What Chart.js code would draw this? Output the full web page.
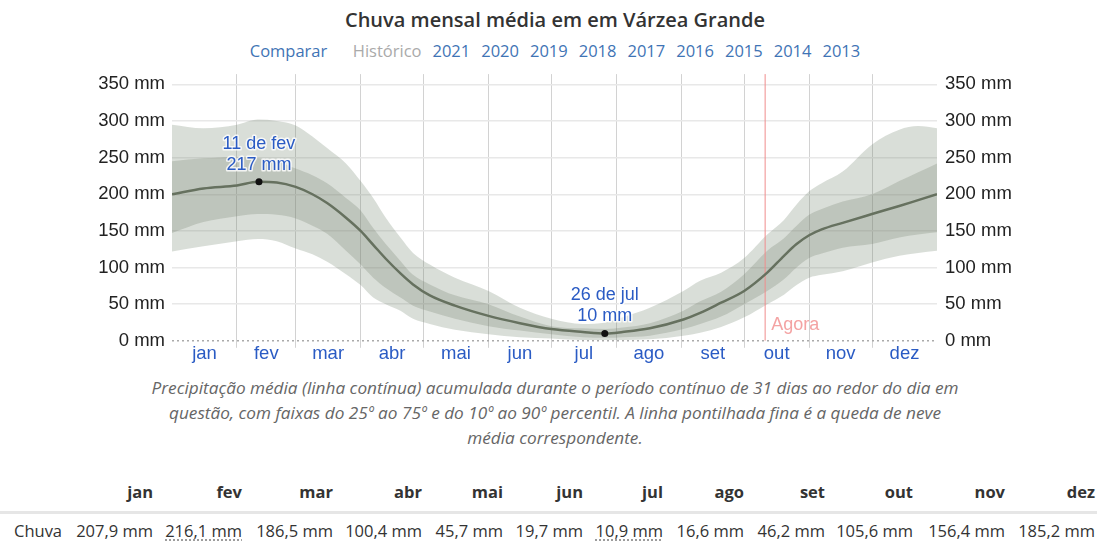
<!DOCTYPE html>
<html lang="pt">
<head>
<meta charset="utf-8">
<title>Chuva mensal média em Várzea Grande</title>
<script src="https://cdn.jsdelivr.net/npm/chart.js@4"></script>
<style>
  body { margin: 0; background: #fff; font-family: "Open Sans", sans-serif; }
  #page { position: relative; width: 1097px; height: 542px; overflow: hidden; }
  #title { position: absolute; top: 6px; left: 0; width: 1110px; text-align: center;
           font-size: 20px; font-weight: 600; color: #333; }
  #links { position: absolute; top: 39px; left: 0; width: 1110px; text-align: center;
           font-size: 16.5px; color: #3f74b5; }
  #links span { margin: 0 5.5px; }
  #links .gap { margin-right: 20px; }
  #links .off { color: #aaa; }
  #wrap { position: absolute; top: 55px; left: 0; }
  #caption { position: absolute; top: 375px; left: 0; width: 1110px; text-align: center;
             font-size: 17.2px; font-style: italic; color: #666; line-height: 25px; }
  #tbl { position: absolute; top: 472px; left: 0; width: 1097px; border-collapse: collapse;
         table-layout: fixed; font-size: 16.5px; color: #333; }
  #tbl th, #tbl td { text-align: right; padding: 0 2px 0 0; white-space: nowrap; }
  #tbl th { font-weight: 700; height: 39px; border-bottom: 3px solid #e6e6e6; }
  #tbl td { height: 32px; }
  #tbl td:first-child { text-align: left; padding-left: 14px; }
  #tbl .ext { text-decoration: underline dotted #888; text-underline-offset: 3px; }
</style>
</head>
<body>
<div id="page">
  <div id="title">Chuva mensal média em em Várzea Grande</div>
  <div id="links"><span class="gap">Comparar</span><span class="off">Histórico</span><span>2021</span><span>2020</span><span>2019</span><span>2018</span><span>2017</span><span>2016</span><span>2015</span><span>2014</span><span>2013</span></div>
  <div id="wrap"><canvas id="rain" width="1097" height="320"></canvas></div>
  <div id="caption">Precipitação média (linha contínua) acumulada durante o período contínuo de 31 dias ao redor do dia em<br>questão, com faixas do 25º ao 75º e do 10º ao 90º percentil. A linha pontilhada fina é a queda de neve<br>média correspondente.</div>
  <table id="tbl">
    <colgroup>
      <col style="width:73px"><col style="width:82px"><col style="width:89px"><col style="width:91px">
      <col style="width:89px"><col style="width:81px"><col style="width:80px"><col style="width:80px">
      <col style="width:81px"><col style="width:81px"><col style="width:88px"><col style="width:92px"><col style="width:90px">
    </colgroup>
    <thead><tr id="head"><th></th></tr></thead>
    <tbody><tr id="row"><td>Chuva</td></tr></tbody>
  </table>
</div>
<script>
const months = ["jan", "fev", "mar", "abr", "mai", "jun", "jul", "ago", "set", "out", "nov", "dez"];
const monthStarts = [0, 31, 59, 90, 120, 151, 181, 212, 243, 273, 304, 334, 365];
const monthlyRain = [207.9, 216.1, 186.5, 100.4, 45.7, 19.7, 10.9, 16.6, 46.2, 105.6, 156.4, 185.2];
const yTicks = [0, 50, 100, 150, 200, 250, 300, 350];

// daily curve, sampled (day of year)
const days = [0, 15, 31, 41, 50, 59, 67, 74, 83, 90, 96, 102, 109, 115, 123, 135, 151, 166, 181, 196, 207, 215, 228, 244, 252, 262, 273, 284, 292, 298, 304, 310, 320, 334, 347, 356, 365];
const mean = [200, 208, 212, 217, 216, 210, 200, 188, 168, 150, 131, 112, 92, 77, 62, 48, 34, 24, 16, 12, 10, 12, 17, 29, 38, 52, 68, 93, 116, 132, 144, 152, 161, 173, 184, 192, 200];
const p75 = [245, 249, 251, 249, 245, 235, 226, 215, 195, 178, 154, 132, 109, 90, 77, 62, 50, 33, 20, 17, 16, 18, 24, 41, 54, 67, 91, 123, 140, 157, 172, 180, 190, 200, 218, 230, 242];
const p25 = [147, 162, 170, 173, 172, 167, 157, 146, 123, 104, 86, 72, 59, 48, 40, 30, 20, 14, 9, 5, 4, 5, 7, 16, 23, 33, 50, 68, 84, 100, 113, 119, 127, 132, 141, 145, 148];
const p90 = [295, 290, 295, 302, 300, 294, 279, 263, 242, 218, 195, 168, 141, 120, 104, 86, 68, 45, 30, 23, 25, 32, 45, 68, 82, 93, 113, 145, 165, 186, 204, 215, 231, 268, 288, 293, 290];
const p10 = [122, 129, 136, 139, 136, 126, 118, 108, 91, 76, 59, 50, 41, 30, 23, 15, 9, 5, 3, 1, 1, 1, 2, 7, 11, 19, 32, 50, 63, 76, 86, 90, 95, 107, 116, 120, 123];
const snow = [0, 0];

const peakDays = [41.5, 206.5];
const peakValues = [217, 10];
const peakLabels = [["11 de fev", "217 mm"], ["26 de jul", "10 mm"]];
const nowDay = 283;

const gridDays = monthStarts.slice(1, 12);
const midDays = months.map((m, i) => (monthStarts[i] + monthStarts[i + 1]) / 2);
const pts = arr => days.map((d, i) => ({ x: d, y: arr[i] }));
const fmt = v => v.toFixed(1).replace(".", ",") + " mm";

// table
const head = document.getElementById("head");
const row = document.getElementById("row");
const maxI = monthlyRain.indexOf(Math.max(...monthlyRain));
const minI = monthlyRain.indexOf(Math.min(...monthlyRain));
months.forEach((m, i) => {
  const th = document.createElement("th");
  th.textContent = m;
  head.appendChild(th);
  const td = document.createElement("td");
  td.innerHTML = (i === maxI || i === minI) ? '<span class="ext">' + fmt(monthlyRain[i]) + "</span>" : fmt(monthlyRain[i]);
  row.appendChild(td);
});

Chart.defaults.font.family = "'Liberation Sans', Arial, sans-serif";

const labelPlugin = {
  id: "labels",
  afterDatasetsDraw(chart) {
    const ctx = chart.ctx;
    const xs = chart.scales.x, ys = chart.scales.y;
    ctx.save();
    ctx.font = "18px 'Liberation Sans', Arial, sans-serif";
    ctx.textAlign = "center";
    ctx.textBaseline = "middle";
    ctx.lineJoin = "round";
    peakDays.forEach((d, i) => {
      const px = xs.getPixelForValue(d), py = ys.getPixelForValue(peakValues[i]);
      peakLabels[i].forEach((t, j) => {
        const ty = py - 38 + j * 21;
        ctx.strokeStyle = "rgba(255,255,255,0.8)";
        ctx.lineWidth = 3;
        ctx.strokeText(t, px, ty);
        ctx.fillStyle = "#2a5bc4";
        ctx.fillText(t, px, ty);
      });
    });
    ctx.textAlign = "left";
    ctx.fillStyle = "#f4a3a3";
    ctx.fillText("Agora", xs.getPixelForValue(nowDay) + 6, chart.chartArea.bottom - 16);
    ctx.restore();
  }
};

const band = { borderWidth: 0, pointRadius: 0, cubicInterpolationMode: "monotone" };

new Chart("rain", {
  type: "line",
  data: {
    datasets: [
      { ...band, data: pts(p90), fill: "+1", backgroundColor: "rgba(120,135,115,0.28)", order: 10 },
      { ...band, data: pts(p10), fill: false, order: 9 },
      { ...band, data: pts(p75), fill: "+1", backgroundColor: "rgba(110,125,105,0.25)", order: 8 },
      { ...band, data: pts(p25), fill: false, order: 7 },
      { data: pts(mean), borderColor: "#66715f", borderWidth: 2.5, pointRadius: 0, cubicInterpolationMode: "monotone", fill: false, order: 2 },
      { data: [{ x: 0, y: snow[0] }, { x: 365, y: snow[1] }], borderColor: "#aaa", borderWidth: 1.5, borderDash: [2, 3], pointRadius: 0, fill: false, clip: false, order: 4 },
      { data: [{ x: nowDay, y: 0 }, { x: nowDay, y: 364 }], borderColor: "#f08c8c", borderWidth: 1, pointRadius: 0, fill: false, order: 5 },
      { data: peakDays.map((d, i) => ({ x: d, y: peakValues[i] })), showLine: false, pointRadius: 3.5, pointBackgroundColor: "#111", pointBorderWidth: 0, order: 1 }
    ]
  },
  options: {
    responsive: false,
    animation: false,
    layout: { padding: { top: 13, bottom: 7, left: 0, right: 0 } },
    plugins: { legend: { display: false }, tooltip: { enabled: false } },
    scales: {
      x: {
        type: "linear", min: 0, max: 365,
        afterBuildTicks: s => { s.ticks = [...gridDays, ...midDays].sort((a, b) => a - b).map(v => ({ value: v })); },
        afterFit: s => { s.height += 8; },
        ticks: {
          autoSkip: false, maxRotation: 0, padding: -5, color: "#2a5bc4",
          font: { size: 18.5 },
          callback: v => { const i = midDays.indexOf(v); return i >= 0 ? months[i] : ""; }
        },
        grid: {
          color: c => gridDays.includes(c.tick.value) ? "#d2d2d2" : "rgba(0,0,0,0)",
          tickLength: 7
        },
        border: { display: false }
      },
      y: {
        position: "left", min: 0, max: 364,
        afterBuildTicks: s => { s.ticks = yTicks.map(v => ({ value: v })); },
        afterFit: s => { s.width = 172; },
        ticks: { padding: 7, color: "#222", font: { size: 18.5 }, callback: v => v + " mm" },
        grid: { color: c => c.tick.value === 0 ? "rgba(0,0,0,0)" : "#e8e8e8", drawTicks: false, lineWidth: 1.5 },
        border: { display: false }
      },
      y2: {
        position: "right", min: 0, max: 364,
        afterBuildTicks: s => { s.ticks = yTicks.map(v => ({ value: v })); },
        afterFit: s => { s.width = 160; },
        ticks: { padding: 8, color: "#222", font: { size: 18.5 }, callback: v => v + " mm" },
        grid: { display: false, drawTicks: false },
        border: { display: false }
      }
    }
  },
  plugins: [labelPlugin]
});
</script>
</body>
</html>
